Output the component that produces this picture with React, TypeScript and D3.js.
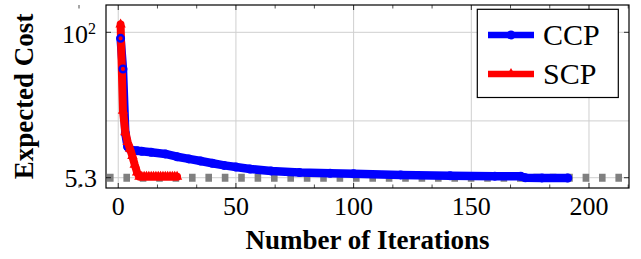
import * as d3 from "d3";

// values
const ccpIter = [1, 2, 3, 4, 5, 6, 8, 10, 14, 20, 25, 30, 35, 40, 45, 50, 56, 65, 77, 90, 100, 120, 141, 160, 171, 173, 180, 191];
const ccpCost = [88.5, 47.7, 13.0, 9.9, 9.4, 9.25, 9.15, 9.05, 8.85, 8.57, 8.1, 7.75, 7.43, 7.1, 6.8, 6.58, 6.32, 6.08, 5.89, 5.8, 5.74, 5.61, 5.51, 5.47, 5.45, 5.29, 5.28, 5.27];

const scpIter = [1, 2, 3, 4, 5, 6, 7, 8, 9, 10, 11, 12, 13, 14, 15, 16, 17, 18, 19, 20, 21, 22, 23, 24, 25];
const scpCost = [117, 20.5, 13.3, 10.9, 9.5, 8.2, 6.9, 5.9, 5.4, 5.4, 5.4, 5.4, 5.4, 5.4, 5.4, 5.4, 5.4, 5.4, 5.4, 5.4, 5.4, 5.4, 5.4, 5.4, 5.4];

const optimum = 5.3;
const xTicks = [0, 50, 100, 150, 200];
const xMinorTicks = [-50 / 3, 50 / 3, 100 / 3, 200 / 3, 250 / 3, 350 / 3, 400 / 3, 500 / 3, 550 / 3, 650 / 3];
const yTicks = [100, 5.3];
const yGrid = [100, 16.7, 5.3];

const W = 641;
const H = 259;
const left = 106, right = 629, top = 5, bottom = 188;

type Pt = [number, number];

export default function App() {
  const x = d3.scaleLinear().domain([-5.2, 217]).range([left, right]);
  const y = d3.scaleLog().domain([4.306, 173.6]).range([bottom, top]);

  const ccp: Pt[] = ccpIter.map((d, i) => [d, ccpCost[i]]);
  const scp: Pt[] = scpIter.map((d, i) => [d, scpCost[i]]);

  const line = d3.line<Pt>().x(d => x(d[0])).y(d => y(d[1]));

  const tri = (cx: number, cy: number, r: number) => {
    const h = r * Math.sin(Math.PI / 3);
    return `M${cx},${cy - r}L${cx + h},${cy + r / 2}L${cx - h},${cy + r / 2}Z`;
  };

  const ring = (d: Pt, i: number) => (
    <circle key={"c" + i} cx={x(d[0])} cy={y(d[1])} r={3.3} fill="none" stroke="#0000ff" strokeWidth={2.4} />
  );

  const font = { fontFamily: '"Liberation Serif"' };

  return (
    <svg width={W} height={H} style={{ position: "absolute", left: 0, top: 0, background: "#fff" }}>
      <defs>
        <clipPath id="plot">
          <rect x={left} y={top} width={right - left} height={bottom - top} />
        </clipPath>
      </defs>

      {/* grid */}
      {xTicks.map(t => (
        <line key={"gx" + t} x1={x(t)} x2={x(t)} y1={top} y2={bottom} stroke="#cfcfcf" strokeWidth={1} />
      ))}
      {yGrid.map(t => (
        <line key={"gy" + t} x1={left} x2={right} y1={y(t)} y2={y(t)} stroke="#cfcfcf" strokeWidth={1} />
      ))}

      <g clipPath="url(#plot)">
        {/* optimum */}
        <line x1={left + 1} x2={right} y1={y(optimum)} y2={y(optimum)} stroke="#808080" strokeWidth={8} strokeDasharray="6.6,9.8" />

        <path d={line(ccp) || ""} fill="none" stroke="#0000ff" strokeWidth={8.5} strokeLinejoin="round" strokeLinecap="round" />
        {ccp.slice(2).map((d, i) => ring(d, i + 2))}
        <path d={line(scp) || ""} fill="none" stroke="#ff0000" strokeWidth={8} strokeLinejoin="round" strokeLinecap="round" />
        {ccp.slice(0, 2).map((d, i) => ring(d, i))}
        {scp.map((d, i) => (
          <path key={"s" + i} d={tri(x(d[0]), y(d[1]), 6)} fill="#ff0000" />
        ))}
      </g>

      {/* ticks */}
      {xTicks.map(t => (
        <g key={"tx" + t} stroke="#000" strokeWidth={0.8}>
          <line x1={x(t)} x2={x(t)} y1={bottom} y2={bottom - 5} />
          <line x1={x(t)} x2={x(t)} y1={top} y2={top + 5} />
        </g>
      ))}
      {xMinorTicks.map((t, i) => (
        <g key={"mx" + i} stroke="#000" strokeWidth={0.7}>
          <line x1={x(t)} x2={x(t)} y1={bottom} y2={bottom - 3.5} />
          <line x1={x(t)} x2={x(t)} y1={top} y2={top + 3.5} />
        </g>
      ))}
      {yTicks.map(t => (
        <g key={"ty" + t} stroke="#000" strokeWidth={0.8}>
          <line x1={left} x2={left + 5} y1={y(t)} y2={y(t)} />
          <line x1={right} x2={right - 5} y1={y(t)} y2={y(t)} />
        </g>
      ))}

      {/* frame */}
      <rect x={left} y={top} width={right - left} height={bottom - top} fill="none" stroke="#000" strokeWidth={1.2} />

      {/* tick labels */}
      {xTicks.map(t => (
        <text key={"lx" + t} x={x(t)} y={215} textAnchor="middle" fontSize={26} style={font}>{t}</text>
      ))}
      <text x={96} y={43} textAnchor="end" fontSize={26} style={font}>
        10<tspan fontSize={16} dy={-9}>2</tspan>
      </text>
      <text x={97} y={y(5.3) + 9} textAnchor="end" fontSize={26} style={font}>5.3</text>

      {/* axis titles */}
      <text x={(left + right) / 2} y={249} textAnchor="middle" fontSize={27} fontWeight="bold" style={font}>Number of Iterations</text>
      <text transform={`translate(33,${(top + bottom) / 2}) rotate(-90)`} textAnchor="middle" fontSize={27} fontWeight="bold" style={font}>Expected Cost</text>

      {/* legend */}
      <rect x={477.3} y={9.3} width={141} height={88.2} fill="#fff" stroke="#000" strokeWidth={1.2} />
      <line x1={488} x2={534} y1={35} y2={35} stroke="#0000ff" strokeWidth={6.5} />
      <circle cx={511} cy={35} r={3.3} fill="none" stroke="#0000ff" strokeWidth={2.4} />
      <text x={543} y={45} fontSize={30} style={font}>CCP</text>
      <line x1={488} x2={534} y1={74} y2={74} stroke="#ff0000" strokeWidth={6.5} />
      <path d={tri(511, 74, 6)} fill="#ff0000" />
      <text x={543} y={83.5} fontSize={30} style={font}>SCP</text>
    </svg>
  );
}
